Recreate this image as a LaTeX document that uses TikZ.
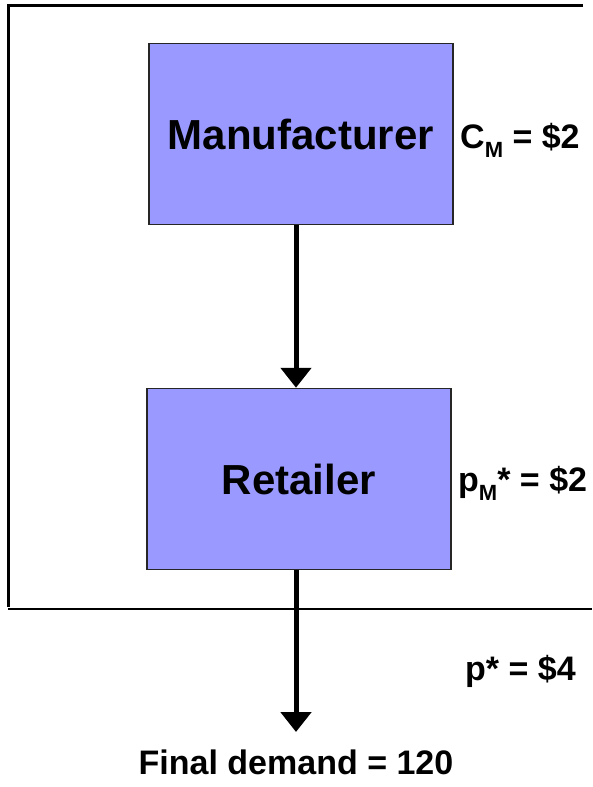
\documentclass[tikz,border=0pt]{standalone}
\usepackage{fontspec}
\setmainfont{Liberation Sans}
\usetikzlibrary{arrows.meta}

\definecolor{firmblue}{HTML}{9999FF}
\newcommand{\lowsub}[1]{\raisebox{-0.29em}{\fontsize{22}{22}\selectfont #1}}

\tikzset{
	firm/.style={draw=black!85, line width=1.5pt, fill=firmblue,
		minimum width=304pt, minimum height=181pt, inner sep=0pt,
		font=\fontsize{42}{42}\selectfont\bfseries},
	price/.style={anchor=base west, inner sep=0pt, font=\fontsize{34}{34}\selectfont\bfseries},
	flow/.style={line width=5pt, -{Triangle[length=20pt, width=30pt]}}
}

\begin{document}
\begin{tikzpicture}[x=1pt, y=-1pt]
	\useasboundingbox (0,0) rectangle (592,787);

	%frame
	\draw[line width=3pt] (583,5) -- (8.5,5) -- (8.5,607);
	\draw[line width=2.5pt] (8,609) -- (592,609);

	%firms
	\node[firm] (manufacturer) at (301,134) {Manufacturer};
	\node[firm] (retailer) at (299,479) {Retailer};
	\coordinate (market) at (296,732);

	%flows
	\draw[flow] (manufacturer.south -| 296,0) -- (retailer.north -| 296,0);
	\draw[flow] (retailer.south -| market) -- (market);

	%prices
	\node[price] (cost) at (460,148) {C\lowsub{M} = \$2};
	\node[price] (wholesale) at (458,491) {p\lowsub{M}* = \$2};
	\node[price] (retail) at (465,680) {p* = \$4};
	\node[price, anchor=base] (demand) at (296,774) {Final demand = 120};
\end{tikzpicture}
\end{document}
